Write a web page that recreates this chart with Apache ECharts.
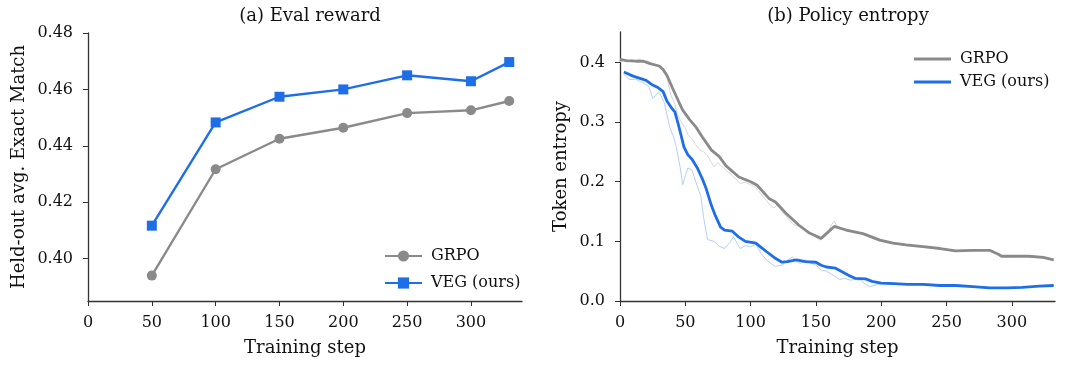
<!DOCTYPE html>
<html>
<head>
<meta charset="utf-8">
<script src="https://cdn.jsdelivr.net/npm/echarts@6/dist/echarts.min.js"></script>
<style>
  html, body { margin: 0; padding: 0; background: #fff; }
  #chart { width: 1067px; height: 365px; }
</style>
</head>
<body>
<div id="chart"></div>
<script>
// (a) Eval reward
const evalSteps = [50, 100, 150, 200, 250, 300, 330];
const evalGrpo = [0.394, 0.4317, 0.4425, 0.4464, 0.4516, 0.4526, 0.4559];
const evalVeg = [0.4117, 0.4483, 0.4574, 0.4600, 0.4650, 0.4629, 0.4697];
const evalYTicks = [0.40, 0.42, 0.44, 0.46, 0.48];
const stepTicksLeft = [0, 50, 100, 150, 200, 250, 300];

// (b) Policy entropy: [step, entropy]
const grpoSmooth = [[0,0.405],[5,0.403],[12,0.402],[18,0.402],[23,0.398],[30,0.394],[33,0.388],[36,0.378],[40,0.358],[45,0.334],[48,0.320],[53,0.305],[58,0.292],[63,0.275],[70,0.253],[76,0.242],[81,0.227],[91,0.208],[100,0.200],[105,0.194],[114,0.172],[119,0.166],[127,0.147],[137,0.127],[145,0.114],[150,0.109],[154,0.105],[158,0.113],[164,0.125],[173,0.119],[186,0.113],[199,0.102],[209,0.097],[219,0.094],[232,0.091],[245,0.088],[257,0.084],[270,0.085],[283,0.085],[290,0.078],[292,0.075],[301,0.075],[313,0.075],[324,0.073],[332,0.069]];
const vegSmooth = [[3,0.384],[10,0.377],[20,0.370],[25,0.362],[29,0.358],[33,0.351],[36,0.335],[40,0.322],[42,0.317],[45,0.293],[49,0.258],[52,0.245],[55,0.238],[59,0.224],[63,0.205],[66,0.188],[70,0.160],[73,0.143],[77,0.124],[80,0.119],[86,0.117],[91,0.107],[96,0.100],[104,0.097],[108,0.090],[112,0.083],[118,0.073],[124,0.065],[128,0.066],[135,0.069],[142,0.066],[150,0.065],[154,0.060],[158,0.057],[165,0.055],[170,0.049],[176,0.042],[180,0.038],[188,0.037],[193,0.033],[200,0.030],[210,0.029],[220,0.028],[232,0.028],[245,0.026],[257,0.026],[270,0.024],[283,0.022],[296,0.022],[308,0.023],[321,0.025],[332,0.026]];
const grpoRaw = [[0,0.401],[3,0.404],[6,0.400],[9,0.405],[12,0.402],[15,0.406],[18,0.400],[21,0.403],[24,0.398],[27,0.396],[30,0.394],[33,0.385],[36,0.374],[39,0.345],[42,0.330],[44,0.313],[47,0.300],[50,0.290],[52,0.279],[55,0.272],[58,0.262],[61,0.254],[64,0.250],[67,0.244],[70,0.232],[72,0.225],[75,0.232],[77,0.227],[80,0.222],[83,0.216],[86,0.210],[89,0.204],[92,0.197],[96,0.199],[100,0.195],[103,0.191],[106,0.185],[109,0.176],[112,0.169],[115,0.160],[118,0.156],[121,0.163],[124,0.150],[128,0.140],[133,0.128],[138,0.124],[143,0.119],[148,0.110],[153,0.102],[156,0.108],[159,0.114],[162,0.128],[164,0.134],[166,0.126],[169,0.122],[173,0.121],[176,0.119],[180,0.114],[186,0.112],[192,0.106],[199,0.100],[209,0.096],[219,0.093],[232,0.090],[245,0.087],[257,0.083],[264,0.085],[270,0.084],[283,0.086],[290,0.077],[295,0.073],[301,0.075],[313,0.074],[324,0.072],[332,0.068]];
const vegRaw = [[3,0.380],[7,0.371],[12,0.372],[18,0.365],[22,0.360],[25,0.340],[28,0.346],[30,0.350],[34,0.332],[38,0.292],[41,0.275],[43,0.259],[46,0.225],[48,0.195],[50,0.210],[52,0.223],[55,0.220],[58,0.200],[62,0.175],[64,0.140],[67,0.103],[72,0.100],[76,0.092],[80,0.088],[84,0.098],[87,0.108],[90,0.095],[92,0.088],[96,0.093],[100,0.091],[104,0.095],[108,0.080],[112,0.069],[116,0.062],[119,0.058],[124,0.060],[128,0.068],[132,0.074],[135,0.066],[138,0.063],[142,0.069],[146,0.064],[150,0.060],[154,0.052],[158,0.050],[161,0.046],[165,0.041],[168,0.036],[172,0.038],[176,0.035],[180,0.036],[184,0.035],[188,0.028],[191,0.024],[196,0.027],[200,0.029],[210,0.028],[220,0.028],[232,0.027],[245,0.026],[257,0.025],[270,0.024],[283,0.022],[296,0.022],[308,0.023],[321,0.025],[332,0.026]];
const entropyYTicks = [0, 0.1, 0.2, 0.3, 0.4];
const stepTicksRight = [0, 50, 100, 150, 200, 250, 300];

const FONT = 'DejaVu Serif';
const GRAY = '#8a8a8a';
const BLUE = '#1e6ee8';
const INK = '#111';

const axisCommon = {
  axisLine: { show: true, lineStyle: { color: '#333', width: 1.3 } },
  axisTick: { show: true, length: 5, lineStyle: { color: '#333', width: 1 } },
  splitLine: { show: false },
  nameTextStyle: { fontFamily: FONT, fontSize: 18, color: INK },
};

function xAxisFor(gridIndex, max, ticks) {
  return {
    ...axisCommon,
    type: 'value', gridIndex, min: 0, max,
    name: 'Training step', nameLocation: 'middle', nameGap: 38,
    axisTick: { ...axisCommon.axisTick, customValues: ticks },
    axisLabel: { customValues: ticks, fontFamily: FONT, fontSize: 16, color: INK, margin: 14 },
  };
}

const chart = echarts.init(document.getElementById('chart'));
chart.setOption({
  animation: false,
  backgroundColor: '#fff',
  title: [
    { text: '(a) Eval reward', left: 305, top: 2, textAlign: 'center',
      textStyle: { fontFamily: FONT, fontSize: 18, fontWeight: 'normal', color: INK } },
    { text: '(b) Policy entropy', left: 843, top: 2, textAlign: 'center',
      textStyle: { fontFamily: FONT, fontSize: 18, fontWeight: 'normal', color: INK } },
  ],
  grid: [
    { left: 88, top: 33, width: 434, height: 268 },
    { left: 620, top: 32, width: 435, height: 269 },
  ],
  legend: [
    { data: ['GRPO', 'VEG (ours)'], orient: 'vertical', left: 379, top: 243,
      itemWidth: 37, itemHeight: 14, itemGap: 11,
      textStyle: { fontFamily: FONT, fontSize: 16, color: INK, padding: [0, 0, 0, 4] } },
    { data: ['GRPO ', 'VEG (ours) '], orient: 'vertical', left: 909, top: 46,
      icon: 'rect', itemWidth: 37, itemHeight: 3, itemGap: 7,
      textStyle: { fontFamily: FONT, fontSize: 16, color: INK, padding: [0, 0, 0, 4] } },
  ],
  xAxis: [
    xAxisFor(0, 340, stepTicksLeft),
    xAxisFor(1, 333, stepTicksRight),
  ],
  yAxis: [
    { ...axisCommon, type: 'value', gridIndex: 0, min: 0.385, max: 0.48,
      name: 'Held-out avg. Exact Match', nameLocation: 'middle', nameGap: 60,
      axisTick: { ...axisCommon.axisTick, customValues: evalYTicks },
      axisLabel: { customValues: evalYTicks, formatter: v => v.toFixed(2),
        fontFamily: FONT, fontSize: 16, color: INK, margin: 15 } },
    { ...axisCommon, type: 'value', gridIndex: 1, min: 0, max: 0.451,
      name: 'Token entropy', nameLocation: 'middle', nameGap: 50,
      axisTick: { ...axisCommon.axisTick, customValues: entropyYTicks },
      axisLabel: { customValues: entropyYTicks, formatter: v => v.toFixed(1),
        fontFamily: FONT, fontSize: 16, color: INK, margin: 15 } },
  ],
  series: [
    { name: 'GRPO', type: 'line', xAxisIndex: 0, yAxisIndex: 0,
      data: evalSteps.map((s, i) => [s, evalGrpo[i]]),
      symbol: 'circle', symbolSize: 10,
      lineStyle: { color: GRAY, width: 2.4 }, itemStyle: { color: GRAY } },
    { name: 'VEG (ours)', type: 'line', xAxisIndex: 0, yAxisIndex: 0,
      data: evalSteps.map((s, i) => [s, evalVeg[i]]),
      symbol: 'rect', symbolSize: 10,
      lineStyle: { color: BLUE, width: 2.4 }, itemStyle: { color: BLUE } },
    { name: 'GRPO raw', type: 'line', xAxisIndex: 1, yAxisIndex: 1, data: grpoRaw,
      symbol: 'none', lineStyle: { color: '#d8d8d8', width: 1 }, itemStyle: { color: '#d8d8d8' }, z: 1 },
    { name: 'VEG raw', type: 'line', xAxisIndex: 1, yAxisIndex: 1, data: vegRaw,
      symbol: 'none', lineStyle: { color: '#b5cff5', width: 1 }, itemStyle: { color: '#b5cff5' }, z: 1 },
    { name: 'GRPO ', type: 'line', xAxisIndex: 1, yAxisIndex: 1, data: grpoSmooth,
      symbol: 'none', lineStyle: { color: GRAY, width: 2.8 }, itemStyle: { color: GRAY }, z: 2 },
    { name: 'VEG (ours) ', type: 'line', xAxisIndex: 1, yAxisIndex: 1, data: vegSmooth,
      symbol: 'none', lineStyle: { color: BLUE, width: 2.8 }, itemStyle: { color: BLUE }, z: 3 },
  ],
});
</script>
</body>
</html>
